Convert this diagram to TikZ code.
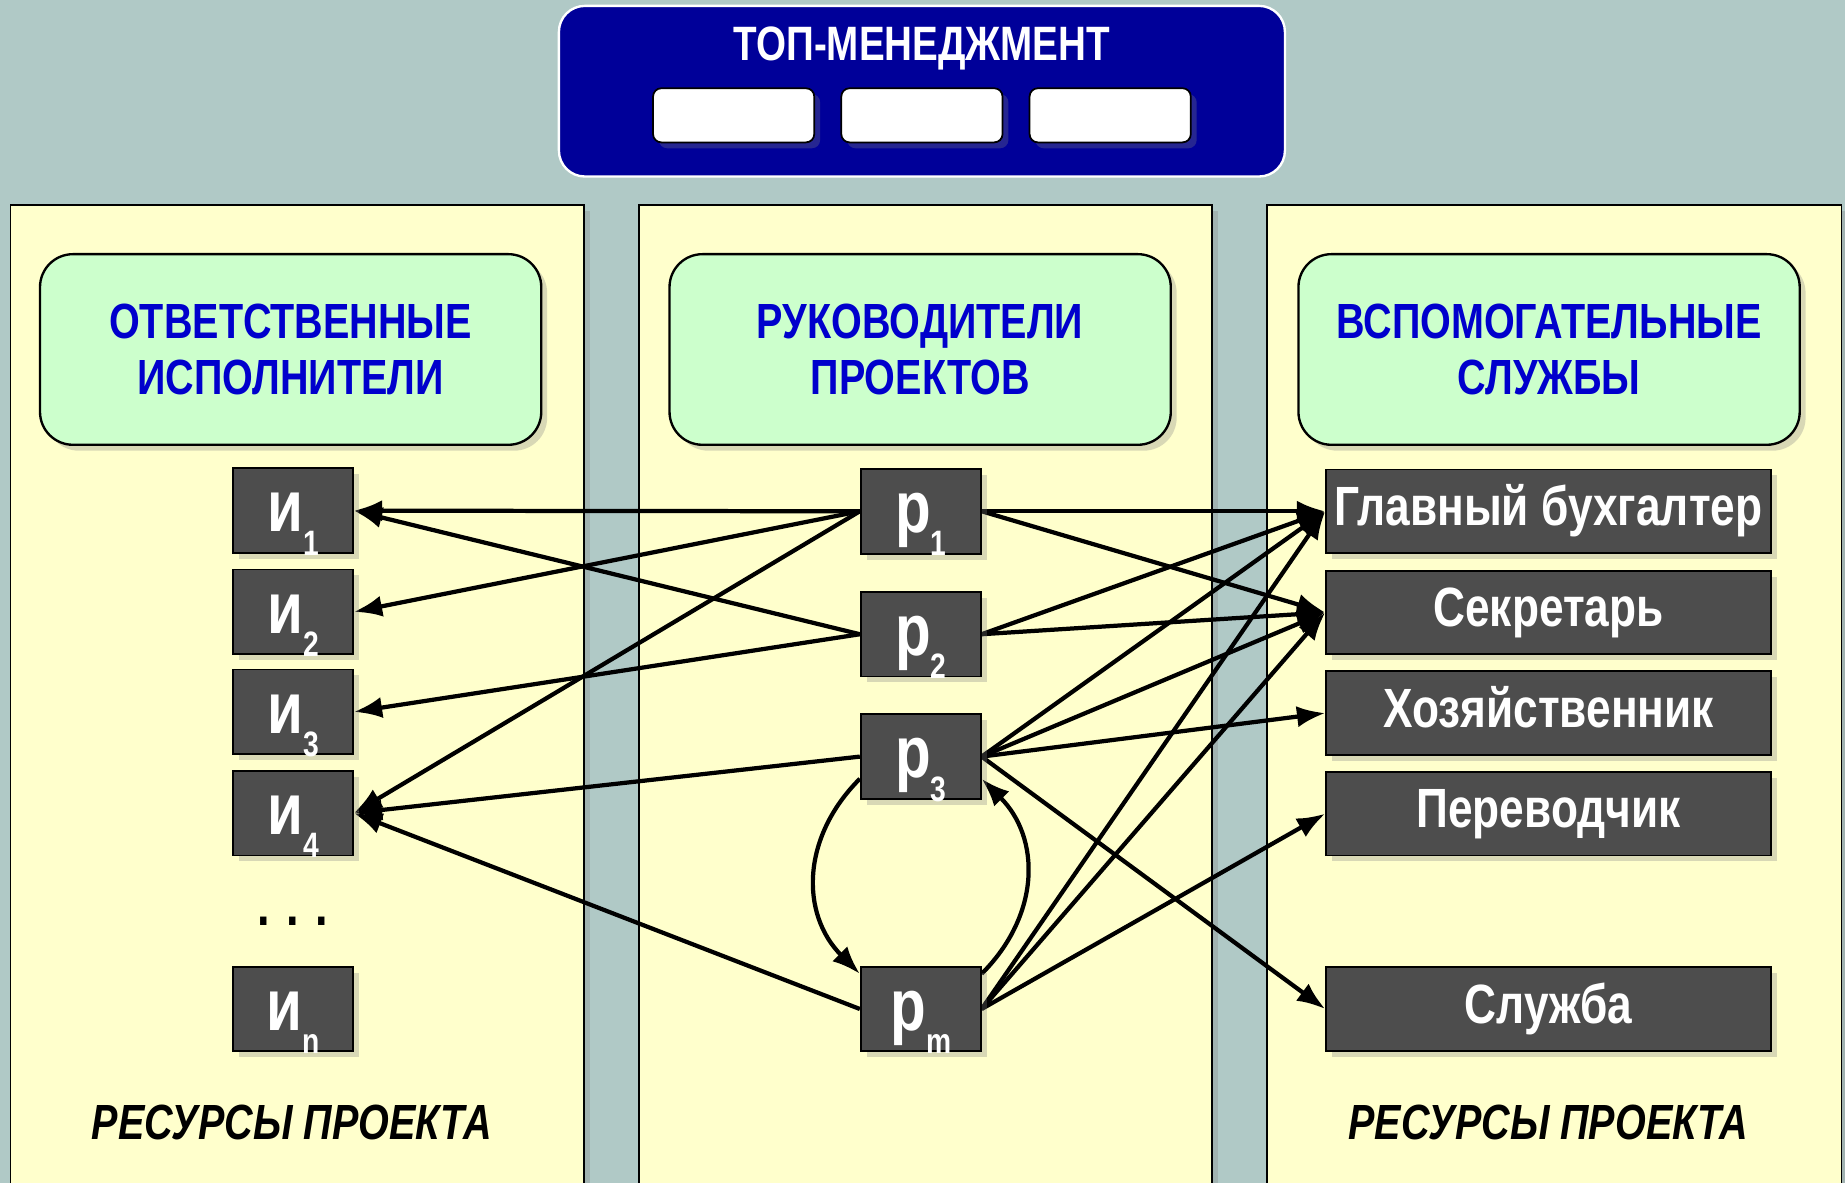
\documentclass[tikz,border=0pt]{standalone}
\usepackage{fontspec}
\setmainfont{Liberation Sans}[FakeStretch=0.8]
\usetikzlibrary{arrows.meta}
\usetikzlibrary{shadows}
\pgfdeclarelayer{backlayer}
\pgfdeclarelayer{edgelayer}
\pgfdeclarelayer{nodelayer}
\pgfsetlayers{backlayer,edgelayer,nodelayer,main}
\definecolor{backgray}{RGB}{176,201,198}
\definecolor{paneyellow}{RGB}{255,255,204}
\definecolor{headgreen}{RGB}{204,255,204}
\definecolor{headblue}{RGB}{0,0,204}
\definecolor{topblue}{RGB}{0,0,153}
\definecolor{boxgray}{RGB}{77,77,77}
\tikzstyle{shade}=[drop shadow={shadow xshift=5pt,shadow yshift=-5pt,opacity=0.3}]
\tikzstyle{panel}=[fill=paneyellow,draw=black,line width=1.5pt,shade]
\tikzstyle{topbox}=[rectangle,rounded corners=22pt,fill=topblue,draw=white,line width=2pt,minimum width=617pt,minimum height=145pt]
\tikzstyle{title}=[text=white,font=\bfseries\fontsize{41}{41}\selectfont,text height=29pt,text depth=0pt]
\tikzstyle{member}=[rectangle,rounded corners=7pt,fill=white,draw=black,line width=1.5pt,minimum width=137pt,minimum height=46pt,shade]
\tikzstyle{header}=[rectangle,rounded corners=28pt,fill=headgreen,draw=black,line width=2pt,minimum width=426pt,minimum height=162pt,align=center,text=headblue,font=\bfseries\fontsize{42}{48}\selectfont,shade]
\tikzstyle{person}=[rectangle,fill=boxgray,draw=black,line width=1.5pt,minimum width=102pt,minimum height=72pt,inner sep=0pt,text=white,font=\bfseries,text height=36pt,text depth=0pt,shade]
\tikzstyle{service}=[rectangle,fill=boxgray,draw=black,line width=1.5pt,minimum width=378pt,minimum height=71pt,inner sep=0pt,text=white,font=\bfseries\fontsize{47}{47}\selectfont,text height=33pt,text depth=9pt,shade]
\tikzstyle{dots}=[font=\bfseries\fontsize{48}{48}\selectfont,text height=7pt,text depth=0pt,inner sep=0pt]
\tikzstyle{caption}=[font=\bfseries\itshape\fontsize{42}{42}\selectfont,text height=30pt,text depth=0pt]
\tikzstyle{transition}=[-{Latex[length=24pt,width=18pt]},draw=black,line width=3.6pt]
\newcommand{\idx}[2]{{\fontsize{62}{62}\selectfont #1}\raisebox{-20pt}{\fontsize{30}{30}\selectfont #2}}

\begin{document}
\begin{tikzpicture}[x=1pt,y=1pt]
	\useasboundingbox (0,0) rectangle (1568,-1005);
	\begin{pgfonlayer}{backlayer}
		\fill [backgray] (0,0) rectangle (1568,-1005);
		\draw [style=panel] (9,-174) rectangle (496,-1020);
		\draw [style=panel] (543,-174) rectangle (1030,-1020);
		\draw [style=panel] (1077,-174) rectangle (1565,-1020);
		\node [style=topbox] (0) at (783.5,-77.5) {};
		\node [style=member] (1) at (623.5,-98) {};
		\node [style=member] (2) at (783.5,-98) {};
		\node [style=member] (3) at (943.5,-98) {};
		\node [style=title] (4) at (783.5,-37) {ТОП-МЕНЕДЖМЕНТ};
		\node [style=header] (5) at (247,-297) {ОТВЕТСТВЕННЫЕ\\ИСПОЛНИТЕЛИ};
		\node [style=header] (6) at (782,-297) {РУКОВОДИТЕЛИ\\ПРОЕКТОВ};
		\node [style=header] (7) at (1316.5,-297) {ВСПОМОГАТЕЛЬНЫЕ\\СЛУЖБЫ};
		\node [style=caption] (8) at (248,-953) {РЕСУРСЫ ПРОЕКТА};
		\node [style=caption] (9) at (1316,-953) {РЕСУРСЫ ПРОЕКТА};
	\end{pgfonlayer}
	\begin{pgfonlayer}{nodelayer}
		\node [style=person] (10) at (249,-434) {\idx{и}{1}};
		\node [style=person] (11) at (249,-520) {\idx{и}{2}};
		\node [style=person] (12) at (249,-605) {\idx{и}{3}};
		\node [style=person] (13) at (249,-691) {\idx{и}{4}};
		\node [style=dots] (14) at (249,-783) {. . .};
		\node [style=person] (15) at (249,-857.5) {\idx{и}{n}};
		\node [style=person] (20) at (782.5,-434.5) {\idx{р}{1}};
		\node [style=person] (21) at (782.5,-539) {\idx{р}{2}};
		\node [style=person] (22) at (782.5,-643) {\idx{р}{3}};
		\node [style=person] (23) at (782.5,-857.5) {\idx{р}{m}};
		\node [style=service] (30) at (1316,-434.5) {Главный бухгалтер};
		\node [style=service] (31) at (1316,-520.5) {Секретарь};
		\node [style=service] (32) at (1316,-606) {Хозяйственник};
		\node [style=service] (33) at (1316,-691.5) {Переводчик};
		\node [style=service] (34) at (1316,-857.5) {Служба};
	\end{pgfonlayer}
	\begin{pgfonlayer}{edgelayer}
		\draw [style=transition] (20.west) to (10.east);
		\draw [style=transition] (20.west) to (11.east);
		\draw [style=transition] (20.west) to (13.east);
		\draw [style=transition] (20.east) to (30.west);
		\draw [style=transition] (20.east) to (31.west);
		\draw [style=transition] (21.west) to (10.east);
		\draw [style=transition] (21.west) to (12.east);
		\draw [style=transition] (21.east) to (30.west);
		\draw [style=transition] (21.east) to (31.west);
		\draw [style=transition] (22.west) to (13.east);
		\draw [style=transition] (22.east) to (30.west);
		\draw [style=transition] (22.east) to (31.west);
		\draw [style=transition] (22.east) to (32.west);
		\draw [style=transition] (22.east) to (34.west);
		\draw [style=transition] (23.west) to (13.east);
		\draw [style=transition] (23.east) to (30.west);
		\draw [style=transition] (23.east) to (31.west);
		\draw [style=transition] (23.east) to (33.west);
		\draw [style=transition, out=225, in=135, looseness=1.1] (22.200) to (23.150);
		\draw [style=transition, out=45, in=-45, looseness=1.1] (23.30) to (22.-20);
	\end{pgfonlayer}
\end{tikzpicture}
\end{document}
